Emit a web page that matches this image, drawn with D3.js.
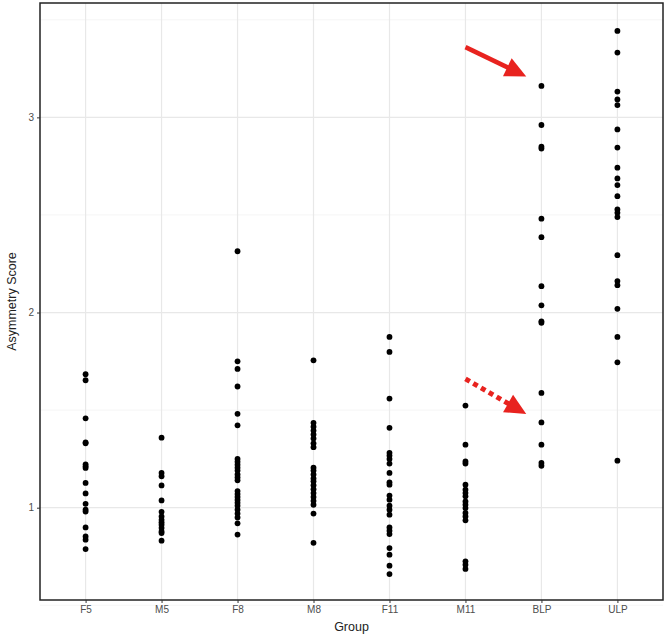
<!DOCTYPE html>
<html lang='en'>
<head>
  <meta charset='UTF-8'>
  <title>Asymmetry Score by Group</title>
  <style>
    body { margin: 0; background: #fff; }
    svg { display: block; font-family: 'Liberation Sans', Arial, sans-serif; }
  </style>
</head>
<body>
<div id='chart'></div>
<script src='https://d3js.org/d3.v7.min.js'></script>
<script>
  // groups on the x axis
  var groups = ['F5', 'M5', 'F8', 'M8', 'F11', 'M11', 'BLP', 'ULP']

  // asymmetry scores per group
  var scoresF5 = [1.684, 1.653, 1.458, 1.335, 1.330, 1.222, 1.212, 1.204, 1.127, 1.073, 1.02, 0.99, 0.98, 0.899, 0.853, 0.836, 0.788]
  var scoresM5 = [1.359, 1.178, 1.161, 1.114, 1.037, 0.979, 0.955, 0.938, 0.925, 0.913, 0.896, 0.878, 0.870, 0.831]
  var scoresF8 = [2.314, 1.750, 1.711, 1.621, 1.481, 1.422, 1.25, 1.235, 1.22, 1.205, 1.19, 1.17, 1.155, 1.14,
    1.085, 1.07, 1.055, 1.04, 1.025, 1.01, 0.99, 0.97, 0.95, 0.92, 0.862]
  var scoresM8 = [1.755, 1.435, 1.415, 1.395, 1.375, 1.355, 1.33, 1.31, 1.205, 1.19, 1.17, 1.15, 1.135, 1.115,
    1.095, 1.075, 1.055, 1.035, 1.015, 0.97, 0.82]
  var scoresF11 = [1.875, 1.798, 1.559, 1.409, 1.281, 1.267, 1.25, 1.226, 1.178, 1.130, 1.118, 1.062, 1.041,
    1.010, 0.990, 0.964, 0.899, 0.882, 0.865, 0.793, 0.759, 0.703, 0.660]
  var scoresM11 = [1.523, 1.323, 1.237, 1.226, 1.118, 1.092, 1.075, 1.058, 1.032, 1.015, 0.998, 0.973, 0.955,
    0.935, 0.725, 0.708, 0.686]
  var scoresBLP = [3.161, 2.961, 2.850, 2.840, 2.481, 2.386, 2.135, 2.037, 1.955, 1.947, 1.588, 1.437, 1.323, 1.229, 1.215]
  var scoresULP = [3.443, 3.332, 3.132, 3.092, 3.063, 2.938, 2.845, 2.742, 2.687, 2.653, 2.596, 2.528, 2.511,
    2.489, 2.294, 2.161, 2.140, 2.019, 1.875, 1.745, 1.241]
  var allScores = [scoresF5, scoresM5, scoresF8, scoresM8, scoresF11, scoresM11, scoresBLP, scoresULP]

  // axis ticks
  var yTicks = [1, 2, 3]
  var yMinorTicks = [0.5, 1.5, 2.5, 3.5]

  // red annotation arrows, in (group index, score) units
  var arrows = [
    { x0: 5.0, y0: 3.36, x1: 5.8, y1: 3.21, dashed: false },
    { x0: 5.0, y0: 1.66, x1: 5.8, y1: 1.48, dashed: true }
  ]

  var width = 666, height = 642
  var margin = { top: 3, right: 3, bottom: 42, left: 40 }

  var svg = d3.select('#chart').append('svg')
    .attr('width', width)
    .attr('height', height)

  var x = d3.scalePoint()
    .domain(groups)
    .range([margin.left, width - margin.right])
    .padding(0.6)

  var y = d3.scaleLinear()
    .domain([0.527, 3.586])
    .range([height - margin.bottom, margin.top])

  // index -> pixel, for the arrows
  var xi = function (i) { return x(groups[0]) + i * x.step() }

  var panel = svg.append('g')

  // grid: minor first, then major
  panel.selectAll('.yminor').data(yMinorTicks).enter().append('line')
    .attr('x1', margin.left).attr('x2', width - margin.right)
    .attr('y1', function (d) { return y(d) }).attr('y2', function (d) { return y(d) })
    .style('stroke', '#f0f0f0').style('stroke-width', '0.7px')

  panel.selectAll('.ymajor').data(yTicks).enter().append('line')
    .attr('x1', margin.left).attr('x2', width - margin.right)
    .attr('y1', function (d) { return y(d) }).attr('y2', function (d) { return y(d) })
    .style('stroke', '#e8e8e8').style('stroke-width', '1.2px')

  panel.selectAll('.xmajor').data(groups).enter().append('line')
    .attr('x1', function (d) { return x(d) }).attr('x2', function (d) { return x(d) })
    .attr('y1', margin.top).attr('y2', height - margin.bottom)
    .style('stroke', '#e8e8e8').style('stroke-width', '1.2px')

  // points
  var points = []
  groups.forEach(function (g, i) {
    allScores[i].forEach(function (v) { points.push({ group: g, value: v }) })
  })
  panel.selectAll('circle').data(points).enter().append('circle')
    .attr('cx', function (d) { return x(d.group) })
    .attr('cy', function (d) { return y(d.value) })
    .attr('r', 2.9)
    .style('fill', '#000')

  // arrows
  var red = '#e8231f'
  arrows.forEach(function (a) {
    var px0 = xi(a.x0), py0 = y(a.y0), px1 = xi(a.x1), py1 = y(a.y1)
    var ang = Math.atan2(py1 - py0, px1 - px0)
    var headLen = 21, headHalf = 10
    var bx = px1 - headLen * Math.cos(ang), by = py1 - headLen * Math.sin(ang)
    panel.append('line')
      .attr('x1', px0).attr('y1', py0)
      .attr('x2', bx + 2 * Math.cos(ang)).attr('y2', by + 2 * Math.sin(ang))
      .style('stroke', red)
      .style('stroke-width', a.dashed ? '5px' : '4.5px')
      .style('stroke-dasharray', a.dashed ? '5,4' : null)
    var nx = -Math.sin(ang), ny = Math.cos(ang)
    panel.append('path')
      .attr('d', 'M' + px1 + ',' + py1 +
        'L' + (bx + nx * headHalf) + ',' + (by + ny * headHalf) +
        'L' + (bx - nx * headHalf) + ',' + (by - ny * headHalf) + 'Z')
      .style('fill', red)
  })

  // panel border
  svg.append('rect')
    .attr('x', margin.left).attr('y', margin.top)
    .attr('width', width - margin.left - margin.right)
    .attr('height', height - margin.top - margin.bottom)
    .style('fill', 'none').style('stroke', '#222').style('stroke-width', '1.5px')

  // axes
  var xAxis = svg.append('g')
    .attr('transform', 'translate(0,' + (height - margin.bottom) + ')')
    .call(d3.axisBottom(x).tickSize(3).tickPadding(3))
  var yAxis = svg.append('g')
    .attr('transform', 'translate(' + margin.left + ',0)')
    .call(d3.axisLeft(y).tickValues(yTicks).tickFormat(d3.format('d')).tickSize(3).tickPadding(3))
  ;[xAxis, yAxis].forEach(function (ax) {
    ax.select('.domain').remove()
    ax.selectAll('.tick line').style('stroke', '#333')
    ax.selectAll('.tick text').style('fill', '#4d4d4d').style('font-size', '10px')
      .style('font-family', "'Liberation Sans', Arial, sans-serif")
  })

  // axis titles
  svg.append('text')
    .attr('x', (margin.left + width - margin.right) / 2)
    .attr('y', 631)
    .attr('text-anchor', 'middle')
    .style('font-size', '12.5px')
    .style('fill', '#222')
    .text('Group')

  svg.append('text')
    .attr('transform', 'translate(16,' + ((margin.top + height - margin.bottom) / 2) + ') rotate(-90)')
    .attr('text-anchor', 'middle')
    .style('font-size', '12.5px')
    .style('fill', '#222')
    .text('Asymmetry Score')
</script>
</body>
</html>
